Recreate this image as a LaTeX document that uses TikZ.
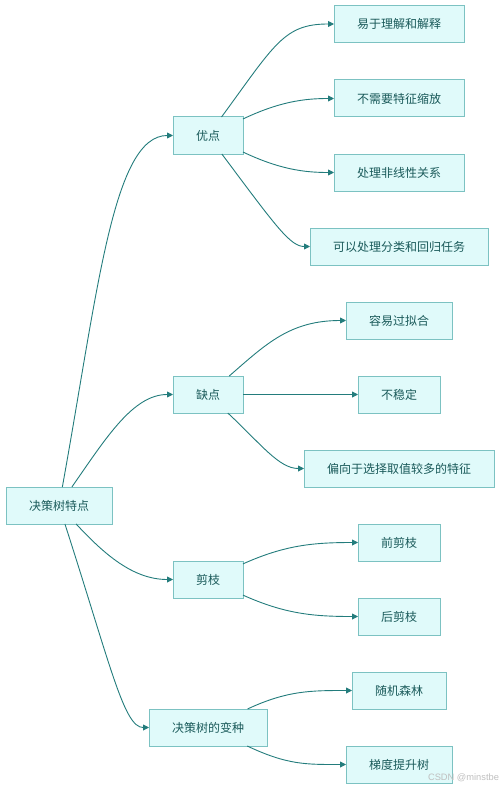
\documentclass[tikz,border=0pt]{standalone}
\usepackage{fontspec}
\setmainfont{Noto Sans CJK SC}
\newfontfamily\wmfont{Liberation Sans}
\usepackage{xcolor}
\usepackage{tikz}
\usetikzlibrary{arrows.meta}
\definecolor{boxfill}{HTML}{E0FAFA}
\definecolor{boxline}{HTML}{7CC2C2}
\definecolor{boxtext}{HTML}{1A5A5A}
\definecolor{linkcol}{HTML}{237C7C}

\begin{document}
\begin{tikzpicture}[x=1pt, y=1pt, outer sep=0pt,
    box/.style={draw=boxline, fill=boxfill, text=boxtext, line width=1pt, rectangle, minimum height=37pt, inner xsep=23pt, inner ysep=0pt, font=\fontsize{12pt}{14pt}\selectfont},
    link/.style={draw=linkcol, line width=0.9pt, -{Triangle[length=6pt,width=6pt]}}]
    \useasboundingbox (0,0) rectangle (500,-789);

    \node [box] (root) at (59,-505.5) {决策树特点};
    \node [box] (good) at (208,-135.5) {优点};
    \node [box] (bad) at (208,-394.5) {缺点};
    \node [box] (prune) at (208,-579.5) {剪枝};
    \node [box] (var) at (208,-727.5) {决策树的变种};

    \node [box] (easy) at (399,-24) {易于理解和解释};
    \node [box] (scale) at (399,-98.5) {不需要特征缩放};
    \node [box] (nonlin) at (399,-172.5) {处理非线性关系};
    \node [box] (task) at (399,-246.5) {可以处理分类和回归任务};
    \node [box] (overfit) at (399,-320.5) {容易过拟合};
    \node [box] (unstable) at (399,-394.5) {不稳定};
    \node [box] (bias) at (399,-468.5) {偏向于选择取值较多的特征};
    \node [box] (pre) at (399,-542.5) {前剪枝};
    \node [box] (post) at (399,-616.5) {后剪枝};
    \node [box] (forest) at (399,-690.5) {随机森林};
    \node [box] (gbt) at (399,-764.5) {梯度提升树};

    \draw [link] (root) .. controls +(39,215.5) and +(-95,0) .. (good);
    \draw [link] (root) .. controls +(47,67.5) and +(-75,0) .. (bad);
    \draw [link] (root) .. controls +(45,-48.5) and +(-75,0) .. (prune);
    \draw [link] (root) .. controls +(52,-161.5) and +(-84,0) .. (var);

    \draw [link] (good) .. controls +(67,91.5) and +(-115,0) .. (easy);
    \draw [link] (good) .. controls +(71.5,33.8) and +(-95,0) .. (scale);
    \draw [link] (good) .. controls +(71.5,-33.8) and +(-95,0) .. (nonlin);
    \draw [link] (good) .. controls +(67,-89.5) and +(-109,0) .. (task);

    \draw [link] (bad) .. controls +(58,50.5) and +(-109,0) .. (overfit);
    \draw [link] (bad) -- (unstable);
    \draw [link] (bad) .. controls +(53,-49.5) and +(-120,0) .. (bias);

    \draw [link] (prune) .. controls +(77,34.4) and +(-86,0) .. (pre);
    \draw [link] (prune) .. controls +(77,-34.4) and +(-86,0) .. (post);

    \draw [link] (var) .. controls +(79.5,37.2) and +(-87,0) .. (forest);
    \draw [link] (var) .. controls +(79.5,-37.5) and +(-93,0) .. (gbt);

    \node [text=black!25, font=\wmfont\fontsize{9.3pt}{11pt}\selectfont, inner sep=0pt] (mark) at (463.5,-778) {CSDN @minstbe};
\end{tikzpicture}
\end{document}
